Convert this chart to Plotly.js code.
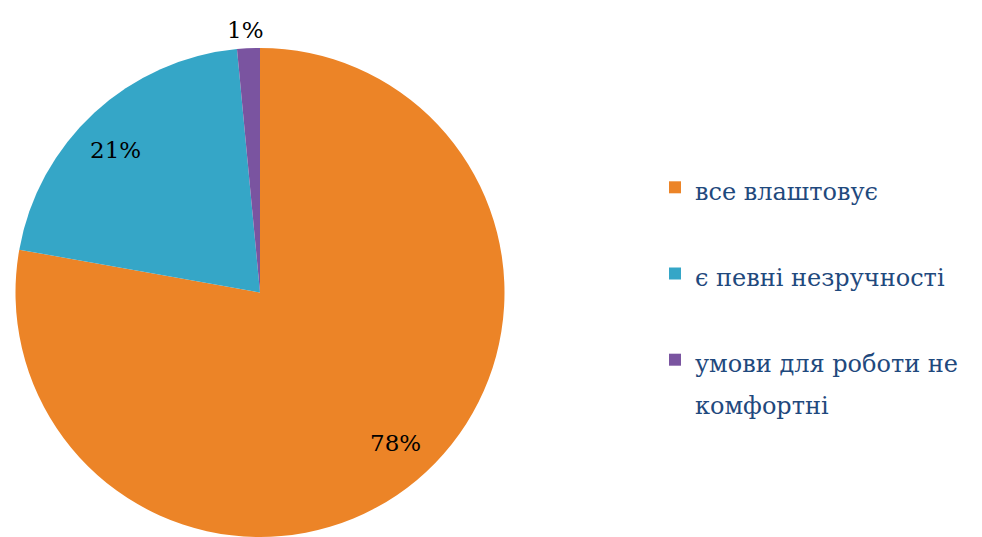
<!DOCTYPE html>
<html>
<head>
<meta charset="utf-8">
<script src="https://cdn.plot.ly/plotly-3.0.1.min.js"></script>
<style>html,body{margin:0;padding:0;background:#fff;}#chart{width:982px;height:537px;}</style>
</head>
<body>
<div id="chart"></div>
<script>
var categories = ["все влаштовує", "є певні незручності", "умови для роботи не комфортні"];
var legendLines = [["все влаштовує", " "], ["є певні незручності", " "], ["умови для роботи не", "комфортні"]];
var values = [77.8, 20.7, 1.5];
var percentLabels = ["78%", "21%", "1%"];
var colors = ["#EC8427", "#35A6C7", "#7A54A0"];

// label positions in pixels (of the 982x537 page)
var labelPos = [[395, 443], [115, 150], [245, 30]];

var W = 982, H = 537;
var SERIF = "DejaVu Serif";

var legendLabels = legendLines.map(function (lines) {
  return lines.map(function (l) {
    return "<span style='font-size:24px'>" + l + "</span>";
  }).join("<br>");
});

var annotations = percentLabels.map(function (t, i) {
  return {
    text: t, x: labelPos[i][0] / W, y: 1 - labelPos[i][1] / H,
    xref: "paper", yref: "paper", showarrow: false,
    xanchor: "center", yanchor: "middle",
    font: {family: SERIF, size: 23, color: "#000"}
  };
});

var trace = {
  type: "pie",
  labels: legendLabels,
  values: values,
  sort: false,
  direction: "clockwise",
  rotation: 0,
  textinfo: "none",
  hoverinfo: "none",
  marker: {colors: colors, line: {width: 0}},
  domain: {x: [15 / W, 505 / W], y: [0, 489 / H]}
};

var layout = {
  width: W, height: H,
  margin: {l: 0, r: 0, t: 0, b: 0, autoexpand: false},
  paper_bgcolor: "#fff",
  showlegend: true,
  legend: {
    x: 655 / W, y: 1 - 160 / H, xanchor: "left", yanchor: "top",
    valign: "top",
    font: {family: SERIF, size: 32, color: "#1F497D"},
    bgcolor: "rgba(0,0,0,0)"
  },
  annotations: annotations
};

Plotly.newPlot("chart", [trace], layout, {displayModeBar: false, staticPlot: true});
</script>
</body>
</html>
